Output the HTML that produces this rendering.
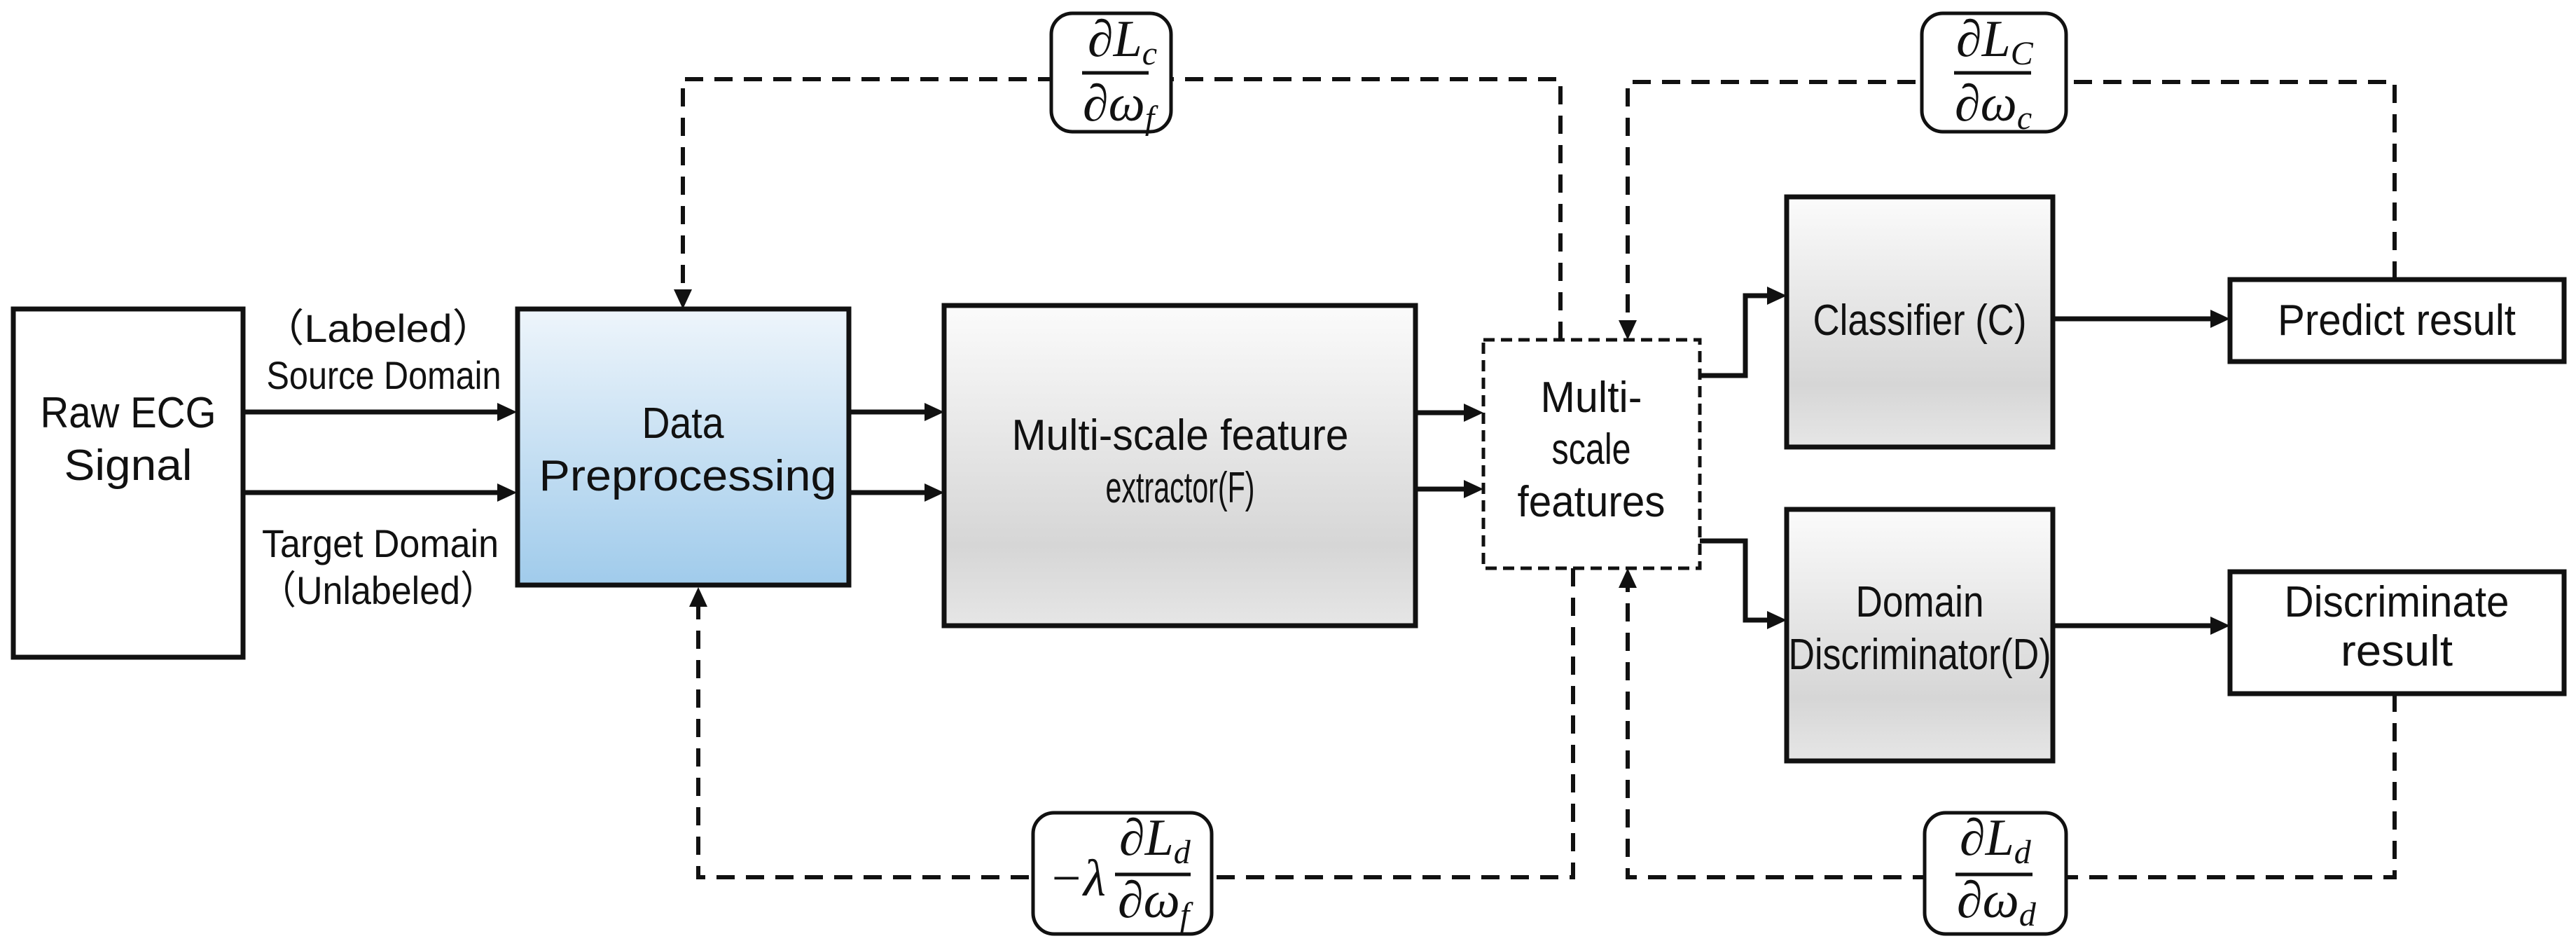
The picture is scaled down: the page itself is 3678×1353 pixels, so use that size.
<!DOCTYPE html>
<html><head><meta charset="utf-8"><style>
html,body{margin:0;padding:0;background:#fff;}
svg{display:block;}
.t{font-family:"Liberation Sans",sans-serif;font-size:62px;fill:#111;text-anchor:middle;}
.s{font-family:"Liberation Sans","Noto Sans CJK SC",sans-serif;font-size:56px;fill:#111;text-anchor:middle;}
.m{font-family:"Liberation Serif",serif;font-style:italic;font-size:74px;fill:#111;}
.sub{font-size:48px;}
</style></head><body>
<svg width="3678" height="1353" viewBox="0 0 3678 1353" xmlns="http://www.w3.org/2000/svg">
<defs>
<linearGradient id="g" x1="0" y1="0" x2="0" y2="1">
<stop offset="0" stop-color="#fbfbfb"/><stop offset="0.75" stop-color="#d6d6d6"/><stop offset="1" stop-color="#e6e6e6"/>
</linearGradient>
<linearGradient id="b" x1="0" y1="0" x2="0" y2="1">
<stop offset="0" stop-color="#eef5fb"/><stop offset="1" stop-color="#a0cbeb"/>
</linearGradient>
</defs>
<g stroke="#111" stroke-width="7" fill="none">
<rect x="19" y="441" width="328" height="497" fill="#fff"/>
<rect x="739" y="441" width="473" height="394" fill="url(#b)"/>
<rect x="1348" y="436" width="673" height="457" fill="url(#g)"/>
<rect x="2118" y="485" width="309" height="326" fill="#fff" stroke-dasharray="16,9" stroke-width="5"/>
<rect x="2551" y="281" width="380" height="357" fill="url(#g)"/>
<rect x="2551" y="727" width="380" height="359" fill="url(#g)"/>
<rect x="3184" y="399" width="477" height="117" fill="#fff"/>
<rect x="3184" y="816" width="477" height="174" fill="#fff"/>
<path d="M347 588H712M347 703H712M1212 588H1322M1212 703H1322M2021 589H2092M2021 698H2092M2427 536H2492V422H2525M2427 772H2492V885H2525M2931 455H3158M2931 893H3158"/>
<g stroke-dasharray="26,16" stroke-width="6">
<path d="M2228 485V113H975V415"/>
<path d="M3419 399V117H2324V459"/>
<path d="M2246 811V1252H997V866"/>
<path d="M3419 990V1252H2324V837"/>
</g>
</g>
<g fill="#111">
<path d="M738 588l-28-13v26zM738 703l-28-13v26zM1348 588l-28-13v26zM1348 703l-28-13v26zM2118 589l-28-13v26zM2118 698l-28-13v26zM2551 422l-28-13v26zM2551 885l-28-13v26zM3184 455l-28-13v26zM3184 893l-28-13v26z"/>
<path d="M975 441l-13-28h26zM997 838l-13 28h26zM2324 485l-13-28h26zM2324 811l-13 28h26z"/>
</g>
<g stroke="#111" stroke-width="5" fill="#fff">
<rect x="1501" y="19" width="171" height="169" rx="30"/>
<rect x="2744" y="19" width="206" height="169" rx="30"/>
<rect x="1475" y="1160" width="255" height="173" rx="30"/>
<rect x="2748" y="1160" width="202" height="173" rx="30"/>
<path d="M1545 104H1640M2790 104H2900M1592 1248H1700M2792 1248H2902"/>
</g>
<text class="m" x="1553" y="80">∂L<tspan class="sub" dy="12">c</tspan></text>
<text class="m" x="1546" y="172">∂ω<tspan class="sub" dy="12">f</tspan></text>
<text class="m" x="2793" y="80">∂L<tspan class="sub" dy="12" font-size="60">C</tspan></text>
<text class="m" x="2791" y="172">∂ω<tspan class="sub" dy="12">c</tspan></text>
<text class="m" x="1497" y="1278">−λ</text>
<text class="m" x="1598" y="1220">∂L<tspan class="sub" dy="12">d</tspan></text>
<text class="m" x="1596" y="1309">∂ω<tspan class="sub" dy="12">f</tspan></text>
<text class="m" x="2798" y="1220">∂L<tspan class="sub" dy="12">d</tspan></text>
<text class="m" x="2794" y="1309">∂ω<tspan class="sub" dy="12">d</tspan></text>
<g lengthAdjust="spacingAndGlyphs">
<text class="t" x="183" y="610" textLength="251" lengthAdjust="spacingAndGlyphs">Raw ECG</text>
<text class="t" x="183" y="685" textLength="183" lengthAdjust="spacingAndGlyphs">Signal</text>
<text class="s" x="540" y="488" textLength="330" lengthAdjust="spacingAndGlyphs">（Labeled）</text>
<text class="s" x="548" y="555" textLength="335" lengthAdjust="spacingAndGlyphs">Source Domain</text>
<text class="s" x="543" y="795" textLength="338" lengthAdjust="spacingAndGlyphs">Target Domain</text>
<text class="s" x="540" y="862" textLength="338" lengthAdjust="spacingAndGlyphs">（Unlabeled）</text>
<text class="t" x="975" y="625" textLength="117" lengthAdjust="spacingAndGlyphs">Data</text>
<text class="t" x="982" y="700" textLength="425" lengthAdjust="spacingAndGlyphs">Preprocessing</text>
<text class="t" x="1685" y="642" textLength="481" lengthAdjust="spacingAndGlyphs">Multi-scale feature</text>
<text class="t" x="1685" y="717" textLength="213" lengthAdjust="spacingAndGlyphs">extractor(F)</text>
<text class="t" x="2272" y="588" textLength="145" lengthAdjust="spacingAndGlyphs">Multi-</text>
<text class="t" x="2272" y="662" textLength="113" lengthAdjust="spacingAndGlyphs">scale</text>
<text class="t" x="2272" y="737" textLength="211" lengthAdjust="spacingAndGlyphs">features</text>
<text class="t" x="2741" y="478" textLength="305" lengthAdjust="spacingAndGlyphs">Classifier (C)</text>
<text class="t" x="2741" y="880" textLength="183" lengthAdjust="spacingAndGlyphs">Domain</text>
<text class="t" x="2741" y="955" textLength="375" lengthAdjust="spacingAndGlyphs">Discriminator(D)</text>
<text class="t" x="3422" y="478" textLength="340" lengthAdjust="spacingAndGlyphs">Predict result</text>
<text class="t" x="3422" y="880" textLength="321" lengthAdjust="spacingAndGlyphs">Discriminate</text>
<text class="t" x="3422" y="950" textLength="160" lengthAdjust="spacingAndGlyphs">result</text>
</g>
</svg>
</body></html>
